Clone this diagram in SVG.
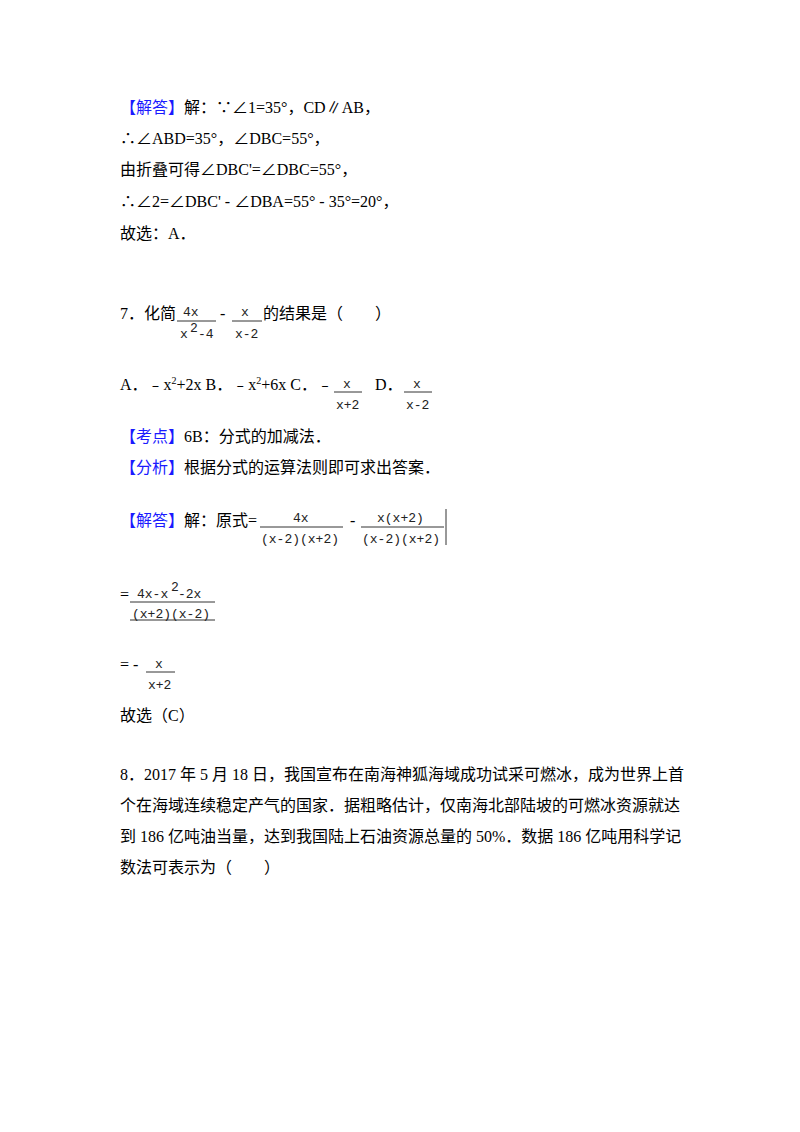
<svg xmlns="http://www.w3.org/2000/svg" width="800" height="1132" viewBox="0 0 800 1132">
<style>
text{font-family:"Liberation Serif","Noto Sans CJK SC",serif;font-size:16px;fill:#000}
.b{fill:#1a1aff}
.m{font-family:"Liberation Mono","Noto Sans CJK SC",monospace;font-size:13px;fill:#222}
.l{stroke:#333;stroke-width:1}
</style>
<rect width="800" height="1132" fill="#fff"/>
<text x="120" y="113"><tspan class="b">【解答】</tspan>解：∵∠1=35°，CD∥AB，</text>
<text x="120" y="144">∴∠ABD=35°，∠DBC=55°，</text>
<text x="120" y="175">由折叠可得∠DBC'=∠DBC=55°，</text>
<text x="120" y="207">∴∠2=∠DBC' - ∠DBA=55° - 35°=20°，</text>
<text x="120" y="239">故选：A．</text>

<text x="120" y="319">7．化简</text>
<text class="m" x="183" y="316">4x</text><line class="l" x1="177" y1="321" x2="216" y2="321"/>
<text class="m" x="180" y="338">x</text><text class="m" x="190" y="332" font-size="10">2</text><text class="m" x="198" y="338">-4</text>
<text x="220" y="319">-</text>
<text class="m" x="241" y="316">x</text><line class="l" x1="232" y1="321" x2="262" y2="321"/>
<text class="m" x="235" y="338">x-2</text>
<text x="263" y="319">的结果是（　　）</text>

<text x="120" y="390">A．﹣x<tspan font-size="10" dy="-6">2</tspan><tspan dy="6">+2x B．﹣x</tspan><tspan font-size="10" dy="-6">2</tspan><tspan dy="6">+6x C．﹣</tspan></text>
<text class="m" x="343" y="388">x</text><line class="l" x1="334" y1="392" x2="362" y2="392"/>
<text class="m" x="336" y="409">x+2</text>
<text x="375" y="390">D．</text>
<text class="m" x="413" y="388">x</text><line class="l" x1="404" y1="392" x2="432" y2="392"/>
<text class="m" x="406" y="409">x-2</text>

<text x="120" y="442"><tspan class="b">【考点】</tspan>6B：分式的加减法．</text>
<text x="120" y="473"><tspan class="b">【分析】</tspan>根据分式的运算法则即可求出答案．</text>

<text x="120" y="526"><tspan class="b">【解答】</tspan>解：原式=</text>
<text class="m" x="293" y="522">4x</text><line class="l" x1="260" y1="527" x2="343" y2="527"/>
<text class="m" x="261" y="543">(x-2)(x+2)</text>
<text x="350" y="526">-</text>
<text class="m" x="377" y="522">x(x+2)</text><line class="l" x1="361" y1="527" x2="444" y2="527"/>
<text class="m" x="362" y="543">(x-2)(x+2)</text>
<line class="l" x1="446" y1="509" x2="446" y2="545"/>

<text x="120" y="600">=</text>
<text class="m" x="137" y="598">4x-x</text><text class="m" x="171" y="591" font-size="10">2</text><text class="m" x="178" y="598">-2x</text>
<line class="l" x1="130" y1="602" x2="215" y2="602"/>
<text class="m" x="132" y="618">(x+2)(x-2)</text>
<line class="l" x1="130" y1="620" x2="215" y2="620"/>

<text x="120" y="670">= -</text>
<text class="m" x="155" y="668">x</text><line class="l" x1="146" y1="672" x2="175" y2="672"/>
<text class="m" x="148" y="689">x+2</text>

<text x="120" y="721">故选（C）</text>

<text x="120" y="780">8．2017 年 5 月 18 日，我国宣布在南海神狐海域成功试采可燃冰，成为世界上首</text>
<text x="120" y="811">个在海域连续稳定产气的国家．据粗略估计，仅南海北部陆坡的可燃冰资源就达</text>
<text x="120" y="842">到 186 亿吨油当量，达到我国陆上石油资源总量的 50%．数据 186 亿吨用科学记</text>
<text x="120" y="873">数法可表示为（　　）</text>
</svg>
